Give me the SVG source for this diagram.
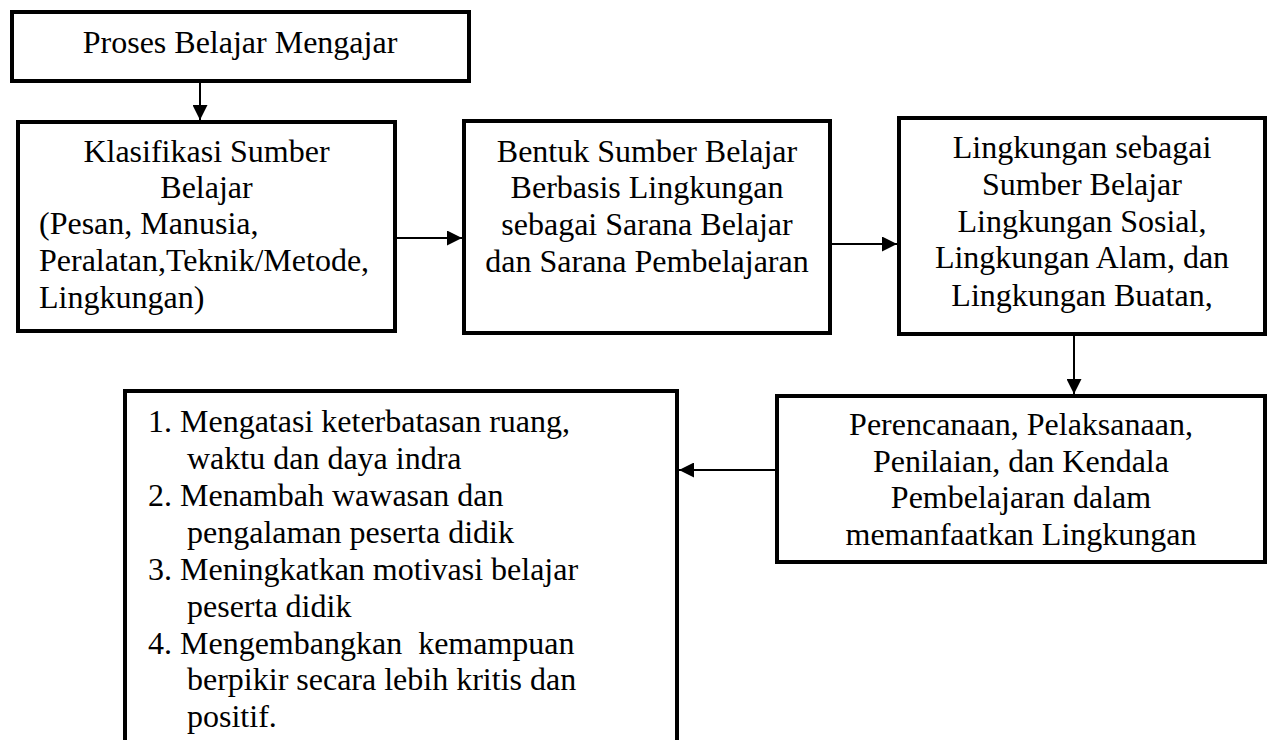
<svg xmlns="http://www.w3.org/2000/svg" width="1269" height="740" viewBox="0 0 1269 740">
<style>
.box{fill:#fff;stroke:#000;stroke-width:4}
.t{font-family:"Liberation Serif","Times New Roman",serif;font-size:32px;fill:#000}
.c{text-anchor:middle}
.edge{stroke:#000;stroke-width:2;fill:none;marker-end:url(#ah)}
</style>
<defs>
<marker id="ah" viewBox="0 0 15 15" refX="15" refY="7.5" markerWidth="15" markerHeight="15" orient="auto" markerUnits="userSpaceOnUse">
<path d="M0,0 L15,7.5 L0,15 Z" fill="#000"/>
</marker>
</defs>
<rect width="1269" height="740" fill="#fff"/>
<g id="n1">
<rect class="box" x="12" y="12" width="457" height="69"/>
<text class="t c" x="240" y="53">Proses Belajar Mengajar</text>
</g>
<g id="n2">
<rect class="box" x="18" y="122" width="377" height="209"/>
<text class="t c" x="206.5" y="162">Klasifikasi Sumber</text>
<text class="t c" x="206.5" y="198">Belajar</text>
<text class="t" x="39" y="234">(Pesan, Manusia,</text>
<text class="t" x="39" y="271">Peralatan,Teknik/Metode,</text>
<text class="t" x="39" y="308">Lingkungan)</text>
</g>
<g id="n3">
<rect class="box" x="464" y="121" width="366" height="212"/>
<text class="t c" x="647" y="162">Bentuk Sumber Belajar</text>
<text class="t c" x="647" y="198">Berbasis Lingkungan</text>
<text class="t c" x="647" y="235">sebagai Sarana Belajar</text>
<text class="t c" x="647" y="272">dan Sarana Pembelajaran</text>
</g>
<g id="n4">
<rect class="box" x="899" y="118" width="366" height="216"/>
<text class="t c" x="1082" y="158">Lingkungan sebagai</text>
<text class="t c" x="1082" y="195">Sumber Belajar</text>
<text class="t c" x="1082" y="232">Lingkungan Sosial,</text>
<text class="t c" x="1082" y="268">Lingkungan Alam, dan</text>
<text class="t c" x="1082" y="306">Lingkungan Buatan,</text>
</g>
<g id="n5">
<rect class="box" x="777" y="396" width="488" height="166"/>
<text class="t c" x="1021" y="435">Perencanaan, Pelaksanaan,</text>
<text class="t c" x="1021" y="472">Penilaian, dan Kendala</text>
<text class="t c" x="1021" y="508">Pembelajaran dalam</text>
<text class="t c" x="1021" y="545">memanfaatkan Lingkungan</text>
</g>
<g id="n6">
<rect class="box" x="125" y="391" width="552" height="400"/>
<text class="t" x="148" y="432">1. Mengatasi keterbatasan ruang,</text>
<text class="t" x="187" y="469">waktu dan daya indra</text>
<text class="t" x="148" y="506">2. Menambah wawasan dan</text>
<text class="t" x="187" y="543">pengalaman peserta didik</text>
<text class="t" x="148" y="580">3. Meningkatkan motivasi belajar</text>
<text class="t" x="187" y="617">peserta didik</text>
<text class="t" x="148" y="654" xml:space="preserve">4. Mengembangkan  kemampuan</text>
<text class="t" x="187" y="690">berpikir secara lebih kritis dan</text>
<text class="t" x="187" y="727">positif.</text>
</g>
<g id="connectors">
<line class="edge" x1="200" y1="83" x2="200" y2="120"/>
<line class="edge" x1="397" y1="238" x2="462" y2="238"/>
<line class="edge" x1="832" y1="244" x2="897" y2="244"/>
<line class="edge" x1="1074" y1="336" x2="1074" y2="394"/>
<line class="edge" x1="775" y1="470" x2="679" y2="470"/>
</g>
</svg>
